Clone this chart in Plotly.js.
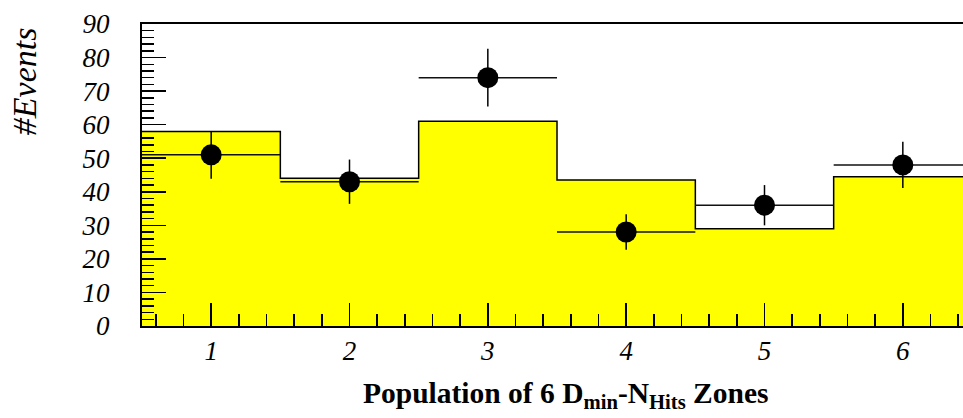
<!DOCTYPE html>
<html>
<head>
<meta charset="utf-8">
<script src="https://cdn.plot.ly/plotly-3.0.1.min.js"></script>
<style>
html,body{margin:0;padding:0;width:963px;height:418px;overflow:hidden;background:#fff;}
#chart{width:985px;height:418px;}
</style>
</head>
<body>
<div id="chart"></div>
<script>
// Zone numbers (bin centres)
var zones = [1, 2, 3, 4, 5, 6];
// Expected (yellow histogram)
var expected = [58, 44, 61, 43.5, 29, 44.5];
// Observed data points
var observed = [51, 43, 74, 28, 36, 48];
// Vertical errors on observed
var obsErr = [7.1, 6.6, 8.6, 5.3, 6.0, 6.9];
// Half bin width (horizontal error)
var halfWidth = [0.5, 0.5, 0.5, 0.5, 0.5, 0.5];
var yTicks = [0, 10, 20, 30, 40, 50, 60, 70, 80, 90];

// Step outline built from bins
var stepX = [], stepY = [];
for (var i = 0; i < zones.length; i++) {
  stepX.push(zones[i] - halfWidth[i]);
  stepY.push(expected[i]);
}
stepX.push(zones[zones.length - 1] + halfWidth[zones.length - 1]);
stepY.push(expected[expected.length - 1]);

var serif = "Liberation Serif, Times New Roman, serif";

var traces = [
  {
    x: stepX, y: stepY, type: 'scatter', mode: 'lines',
    line: {shape: 'hv', color: '#000', width: 1.5},
    fill: 'tozeroy', fillcolor: '#ffff00',
    hoverinfo: 'skip', showlegend: false
  },
  {
    x: zones, y: observed, type: 'scatter', mode: 'markers',
    marker: {color: '#000', size: 21, symbol: 'circle'},
    error_y: {type: 'data', array: obsErr, visible: true, color: '#000', thickness: 1.5, width: 0},
    error_x: {type: 'data', array: halfWidth, visible: true, color: '#111', thickness: 1.5, width: 0},
    showlegend: false
  }
];

var layout = {
  width: 985, height: 418,
  margin: {l: 142, r: 13, t: 24, b: 92},
  paper_bgcolor: '#fff', plot_bgcolor: '#fff',
  showlegend: false,
  font: {family: serif, color: '#000'},
  xaxis: {
    range: [0.5, 6.5], tickvals: zones, ticktext: zones.map(String),
    ticks: 'inside', ticklen: 23, tickwidth: 1.5, tickcolor: '#000',
    minor: {dtick: 0.2, tick0: 0, ticks: 'inside', ticklen: 12, tickwidth: 1.5, tickcolor: '#000'},
    showline: true, linecolor: '#000', linewidth: 2, mirror: true,
    showgrid: false, zeroline: false,
    tickfont: {family: serif, size: 27, style: 'italic', color: '#000'},
    ticklabelstandoff: 0
  },
  yaxis: {
    range: [0, 90], tickvals: yTicks, ticktext: yTicks.map(String),
    ticks: 'inside', ticklen: 24, tickwidth: 1.5, tickcolor: '#000',
    minor: {dtick: 2, tick0: 0, ticks: 'inside', ticklen: 12, tickwidth: 1.5, tickcolor: '#000'},
    showline: true, linecolor: '#000', linewidth: 2, mirror: true,
    showgrid: false, zeroline: false,
    tickfont: {family: serif, size: 27, style: 'italic', color: '#000'},
    ticklabelstandoff: 25
  },
  annotations: [
    {
      text: '#Events', textangle: -90, xref: 'paper', yref: 'paper',
      x: -0.142, y: 0.811, xanchor: 'center', yanchor: 'middle', showarrow: false,
      font: {family: serif, size: 34, style: 'italic', color: '#000'}
    },
    {
      text: 'Population of 6 D<sub>min</sub>-N<sub>Hits</sub> Zones', xref: 'paper', yref: 'paper',
      x: 0.511, y: -0.228, xanchor: 'center', yanchor: 'middle', showarrow: false,
      font: {family: serif, size: 29.5, weight: 'bold', color: '#000'}
    }
  ]
};

Plotly.newPlot('chart', traces, layout, {displayModeBar: false, staticPlot: true});
</script>
</body>
</html>
